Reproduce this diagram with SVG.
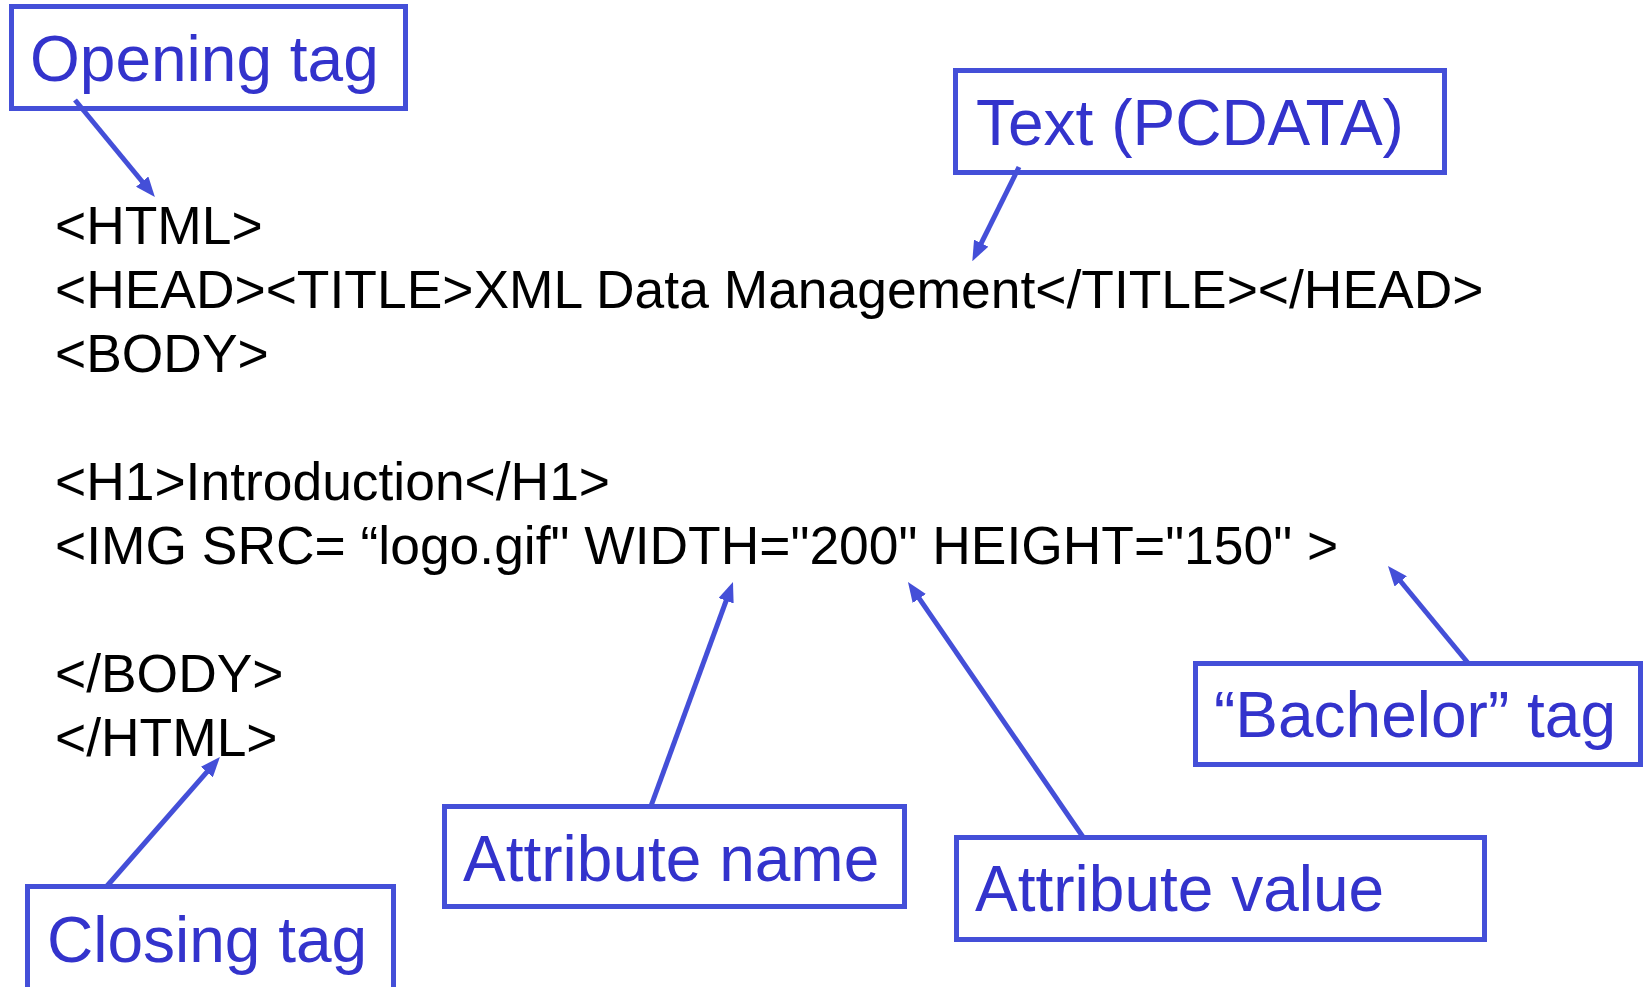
<svg xmlns="http://www.w3.org/2000/svg" width="1644" height="987" viewBox="0 0 1644 987">
<style>
.box{fill:none;stroke:#444FD8;stroke-width:5}
.lbl{font-family:"Liberation Sans",Arial,sans-serif;font-size:64px;fill:#3333CC}
.code{font-family:"Liberation Sans",Arial,sans-serif;font-size:53.4px;fill:#000}
.conn{stroke:#444FD8;stroke-width:5;fill:none;marker-end:url(#ah)}
</style>
<defs>
<marker id="ah" viewBox="0 0 20 16" markerWidth="20" markerHeight="16" refX="9" refY="8" markerUnits="userSpaceOnUse" orient="auto">
<path d="M0,0 L20,8 L0,16 z" fill="#444FD8"/>
</marker>
</defs>
<rect width="1644" height="987" fill="#fff"/>
<g id="code">
<text class="code" x="55" y="244">&lt;HTML&gt;</text>
<text class="code" x="55" y="308">&lt;HEAD&gt;&lt;TITLE&gt;XML Data Management&lt;/TITLE&gt;&lt;/HEAD&gt;</text>
<text class="code" x="55" y="372">&lt;BODY&gt;</text>
<text class="code" x="55" y="500">&lt;H1&gt;Introduction&lt;/H1&gt;</text>
<text class="code" x="55" y="564">&lt;IMG SRC= “logo.gif" WIDTH="200" HEIGHT="150" &gt;</text>
<text class="code" x="55" y="692">&lt;/BODY&gt;</text>
<text class="code" x="55" y="756">&lt;/HTML&gt;</text>
</g>
<g id="opening">
<rect class="box" x="11.5" y="6.5" width="394" height="102"/>
<text class="lbl" x="30" y="81">Opening tag</text>
</g>
<g id="pcdata">
<rect class="box" x="955.5" y="70.5" width="489" height="102"/>
<text class="lbl" x="976" y="145">Text (PCDATA)</text>
</g>
<g id="closing">
<rect class="box" x="27.5" y="886.5" width="366" height="104"/>
<text class="lbl" x="47" y="962">Closing tag</text>
</g>
<g id="attrname">
<rect class="box" x="444.5" y="806.5" width="460" height="100"/>
<text class="lbl" x="463" y="881">Attribute name</text>
</g>
<g id="attrvalue">
<rect class="box" x="956.5" y="837.5" width="528" height="102"/>
<text class="lbl" x="975" y="911">Attribute value</text>
</g>
<g id="bachelor">
<rect class="box" x="1195.5" y="663.5" width="445" height="101"/>
<text class="lbl" x="1214" y="737">“Bachelor” tag</text>
</g>
<g id="connectors">
<line class="conn" x1="75" y1="100" x2="147.9" y2="188.5"/>
<line class="conn" x1="1019" y1="167" x2="977.2" y2="251.3"/>
<line class="conn" x1="107" y1="886" x2="212.7" y2="765.3"/>
<line class="conn" x1="651" y1="806" x2="729.2" y2="592.3"/>
<line class="conn" x1="1083" y1="837" x2="914.2" y2="591.1"/>
<line class="conn" x1="1468" y1="663" x2="1395" y2="574.5"/>
</g>
</svg>
